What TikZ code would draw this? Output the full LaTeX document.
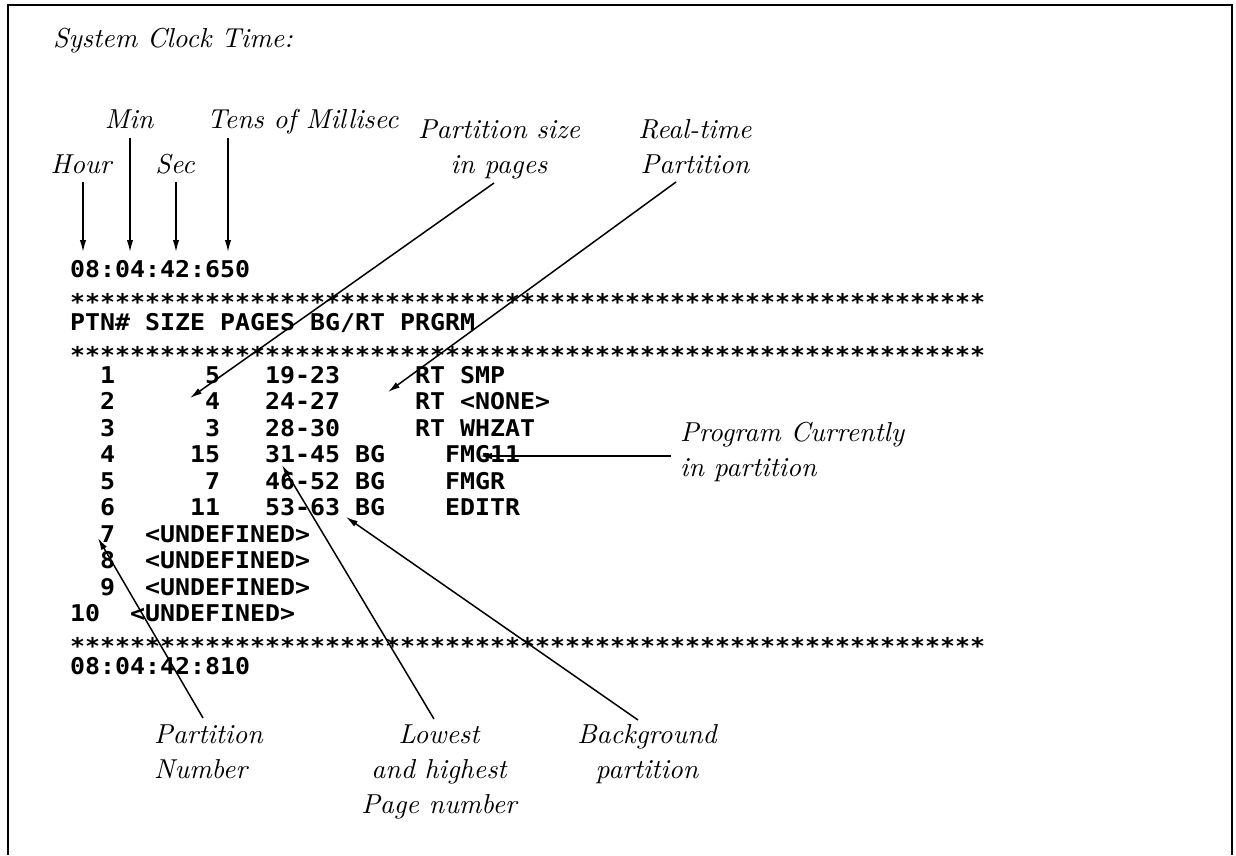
\documentclass[tikz,border=0pt]{standalone}
\usepackage{fontspec}
\newfontfamily\termfont{DejaVu Sans Mono}[FakeStretch=1.08]
\newfontfamily\labfont{lmroman10-italic.otf}
\usetikzlibrary{arrows.meta}
\newcommand\SP[1]{\hspace*{#1\dimexpr15pt\relax}}
\newcommand\starrow{\raisebox{-6.5pt}{*************************************************************}}
\begin{document}
\begin{tikzpicture}[x=1pt,y=-1pt,
  lab/.style={font=\labfont\fontsize{27.4}{35}\selectfont, inner sep=0pt},
  term/.style={font=\termfont\bfseries\fontsize{23.07}{26.53}\selectfont, inner sep=0pt, align=left},
  pointer/.style={line width=1.5pt, -{Latex[length=12pt,width=6.5pt]}},
  frameline/.style={line width=2.2pt}]
\useasboundingbox (0,0) rectangle (1236,855);
\draw[frameline] (8,855) -- (8,5) -- (1232,5) -- (1232,855);

% terminal listing (base anchor = baseline of its last line)
\node[term, anchor=base west] (listing) at (70,674.95) {%
08:04:42:650\\
\starrow\\
PTN\#\SP1SIZE\SP1PAGES\SP1BG/RT\SP1PRGRM\\
\starrow\\
\SP1 1\SP5 5\SP2 19-23\SP4 RT\SP1SMP\\
\SP1 2\SP5 4\SP2 24-27\SP4 RT\SP1<NONE>\\
\SP1 3\SP5 3\SP2 28-30\SP4 RT\SP1WHZAT\\
\SP1 4\SP4 15\SP2 31-45\SP1BG\SP4FMG11\\
\SP1 5\SP5 7\SP2 46-52\SP1BG\SP4FMGR\\
\SP1 6\SP4 11\SP2 53-63\SP1BG\SP4EDITR\\
\SP1 7\SP2<UNDEFINED>\\
\SP1 8\SP2<UNDEFINED>\\
\SP1 9\SP2<UNDEFINED>\\
10\SP2<UNDEFINED>\\
\starrow\\
08:04:42:810};

% labels (multi-line: base anchor on the last line)
\node[lab, anchor=base west] (sct) at (53,47) {System Clock Time:};
\node[lab, anchor=base] (min) at (129,128) {Min};
\node[lab, anchor=base west] (tens) at (207,128) {Tens of Millisec};
\node[lab, anchor=base] (hour) at (81,173) {Hour};
\node[lab, anchor=base] (sec) at (175,173) {Sec};
\node[lab, anchor=base, align=center] (psize) at (499,173) {Partition size\\in pages};
\node[lab, anchor=base, align=center] (rtime) at (695,173) {Real-time\\Partition};
\node[lab, anchor=base west, align=left] (prog) at (680,476) {Program Currently\\in partition};
\node[lab, anchor=base west, align=left] (pnum) at (154,778) {Partition\\Number};
\node[lab, anchor=base, align=center] (low) at (439,813) {Lowest\\and highest\\Page number};
\node[lab, anchor=base, align=center] (bgp) at (647,778) {Background\\partition};

% connector end points
\coordinate (hourA) at (83,182);  \coordinate (hourT) at (83,252);
\coordinate (minA)  at (130,138); \coordinate (minT)  at (130,252);
\coordinate (secA)  at (176,182); \coordinate (secT)  at (176,252);
\coordinate (tensA) at (228,138); \coordinate (tensT) at (228,252);
\coordinate (psA) at (494,183);   \coordinate (psT) at (190,398);
\coordinate (rtA) at (676,182);   \coordinate (rtT) at (388,392);
\coordinate (pgA) at (671,456);   \coordinate (pgT) at (480,456);
\coordinate (pnA) at (203,718);   \coordinate (pnT) at (98,538);
\coordinate (lwA) at (434,719);   \coordinate (lwT) at (282,465);
\coordinate (bgA) at (638,720);   \coordinate (bgT) at (346,517);

\draw[pointer] (hourA) -- (hourT);
\draw[pointer] (minA) -- (minT);
\draw[pointer] (secA) -- (secT);
\draw[pointer] (tensA) -- (tensT);
\draw[pointer] (psA) -- (psT);
\draw[pointer] (rtA) -- (rtT);
\draw[pointer] (pgA) -- (pgT);
\draw[pointer] (pnA) -- (pnT);
\draw[pointer] (lwA) -- (lwT);
\draw[pointer] (bgA) -- (bgT);
\end{tikzpicture}
\end{document}
